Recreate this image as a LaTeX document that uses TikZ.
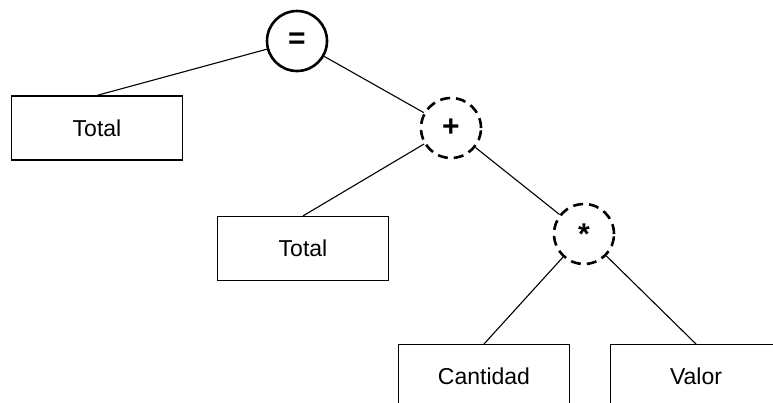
\documentclass[tikz,border=0pt]{standalone}
\usepackage{fontspec}
\setmainfont{Liberation Sans}
\begin{document}
\begin{tikzpicture}[x=1pt,y=-1pt,
  leaf/.style={draw,line width=1.2pt,minimum width=171pt,minimum height=64pt,inner sep=0pt,font=\fontsize{23}{23}\selectfont},
  opnode/.style={circle,draw,line width=2.6pt,minimum size=60pt,inner sep=0pt,font=\fontsize{30}{30}\selectfont\bfseries},
  dashop/.style={opnode,dash pattern=on 10pt off 6pt},
  edge/.style={line width=1.1pt}]
  \clip (0,0) rectangle (773,402);
  \useasboundingbox (0,0) rectangle (773,402);
  % operators
  \node[opnode] (eq) at (297,41) {=};
  \node[dashop] (plus) at (451,128) {+};
  \node[dashop] (mul) at (584,234) {*};
  % operands
  \node[leaf] (tot1) at (97,128) {Total};
  \node[leaf] (tot2) at (303,248.5) {Total};
  \node[leaf,anchor=north] (cant) at (484,344) {\raisebox{0pt}{Cantidad}};
  \node[leaf,anchor=north] (val) at (696,344) {Valor};
  % tree edges
  \draw[edge] (eq) -- (tot1.north);
  \draw[edge] (eq) -- (plus);
  \draw[edge] (plus) -- (tot2.north);
  \draw[edge] (plus) -- (mul);
  \draw[edge] (mul) -- (cant.north);
  \draw[edge] (mul) -- (val.north);
\end{tikzpicture}
\end{document}
